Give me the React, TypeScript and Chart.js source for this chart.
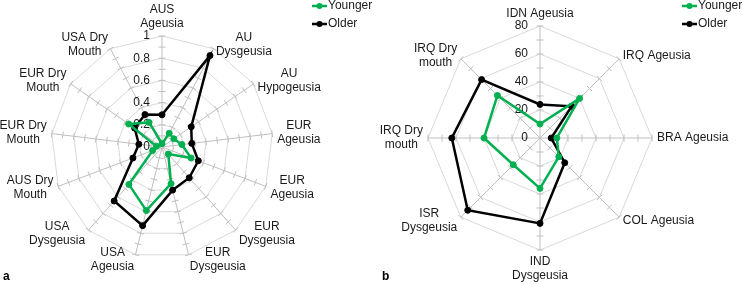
import React, { useEffect, useRef } from 'react';
import { Chart, registerables } from 'chart.js';

Chart.register(...registerables);

const FONT = '"Liberation Sans", Arial, Helvetica, sans-serif';
const GREEN = '#00b050';
const BLACK = '#000000';
const TEXT = '#1a1a1a';

// ---- Panel a ----
const labelsA: string[][] = [
  ['AUS', 'Ageusia'],
  ['AU', 'Dysgeusia'],
  ['AU', 'Hypogeusia'],
  ['EUR', 'Ageusia'],
  ['EUR', 'Ageusia'],
  ['EUR', 'Dysgeusia'],
  ['EUR', 'Dysgeusia'],
  ['USA', 'Ageusia'],
  ['USA', 'Dysgeusia'],
  ['AUS Dry', 'Mouth'],
  ['EUR Dry', 'Mouth'],
  ['EUR Dry', 'Mouth'],
  ['USA Dry', 'Mouth'],
];
const youngerA = [0.03, 0.14, 0.13, 0.18, 0.28, 0.085, 0.34, 0.59, 0.45, 0.09, 0.05, 0.365, 0.25];
const olderA = [0.29, 0.93, 0.32, 0.27, 0.35, 0.37, 0.4, 0.73, 0.65, 0.28, 0.21, 0.3, 0.33];
const tickValuesA = [0, 0.2, 0.4, 0.6, 0.8, 1];
const minorStepA = 0.1;

// ---- Panel b ----
const labelsB: string[][] = [
  ['IDN Ageusia'],
  ['IRQ Ageusia'],
  ['BRA Ageusia'],
  ['COL Ageusia'],
  ['IND', 'Dysgeusia'],
  ['ISR', 'Dysgeusia'],
  ['IRQ Dry', 'mouth'],
  ['IRQ Dry', 'mouth'],
];
const youngerB = [10, 40, 12, 19, 36, 27, 40, 43];
const olderB = [24, 32, 8, 25, 61, 73, 63, 59];
const tickValuesB = [0, 20, 40, 60, 80];
const minorStepB = 10;

const seriesNames = ['Younger', 'Older'];

const excelRadar = {
  id: 'excelRadar',
  beforeDatasetsDraw(chart: any, _args: any, opts: any) {
    const s = chart.scales.r;
    const ctx = chart.ctx as CanvasRenderingContext2D;
    const labels = chart.data.labels as any[];
    const n = labels.length;
    ctx.save();
    // tick marks across every spoke
    ctx.strokeStyle = opts.tickMarkColor;
    ctx.lineWidth = 1;
    const steps = Math.round(s.max / opts.minorStep);
    for (let i = 0; i < n; i++) {
      const ang = s.getIndexAngle(i) - Math.PI / 2;
      const px = -Math.sin(ang);
      const py = Math.cos(ang);
      for (let k = 1; k <= steps; k++) {
        const v = k * opts.minorStep;
        const p = s.getPointPosition(i, s.getDistanceFromCenterForValue(v));
        ctx.beginPath();
        ctx.moveTo(p.x - px * 3.5, p.y - py * 3.5);
        ctx.lineTo(p.x + px * 3.5, p.y + py * 3.5);
        ctx.stroke();
      }
    }
    // value tick labels, left of the vertical axis
    ctx.fillStyle = TEXT;
    ctx.font = `12px ${FONT}`;
    ctx.textAlign = 'right';
    ctx.textBaseline = 'middle';
    s.ticks.forEach((t: any) => {
      const d = s.getDistanceFromCenterForValue(t.value);
      const txt = String(Number(Number(t.value).toFixed(6)));
      ctx.fillText(txt, s.xCenter - opts.tickOffset, s.yCenter - d);
    });
    // category labels
    ctx.textAlign = 'center';
    const lineH = 14;
    for (let i = 0; i < n; i++) {
      const lines: string[] = Array.isArray(labels[i]) ? labels[i] : [labels[i]];
      let deg = (s.getIndexAngle(i) * 180) / Math.PI;
      deg = ((deg % 360) + 360) % 360;
      const p = s.getPointPosition(i, s.drawingArea + 5);
      const bw = Math.max(...lines.map((l) => ctx.measureText(l).width));
      const bh = lines.length * lineH;
      const isTop = deg < 1 || deg > 359;
      const isBottom = Math.abs(deg - 180) < 1;
      let cx: number;
      if (isTop || isBottom) cx = p.x;
      else if (deg < 180) cx = p.x + bw / 2;
      else cx = p.x - bw / 2;
      let top: number;
      if (isTop) top = p.y - bh;
      else if (isBottom) top = p.y;
      else top = p.y - bh / 2;
      lines.forEach((l, j) => ctx.fillText(l, cx, top + lineH * (j + 0.5)));
    }
    ctx.restore();
  },
  afterDraw(chart: any, _args: any, opts: any) {
    const ctx = chart.ctx as CanvasRenderingContext2D;
    ctx.save();
    ctx.font = `12px ${FONT}`;
    ctx.textAlign = 'left';
    ctx.textBaseline = 'middle';
    chart.data.datasets.forEach((ds: any, i: number) => {
      const y = opts.legendY + i * 18;
      const x = opts.legendX;
      ctx.strokeStyle = ds.borderColor;
      ctx.lineWidth = 2.5;
      ctx.beginPath();
      ctx.moveTo(x, y);
      ctx.lineTo(x + 15, y);
      ctx.stroke();
      ctx.fillStyle = ds.borderColor;
      ctx.beginPath();
      ctx.arc(x + 7.5, y, 3, 0, Math.PI * 2);
      ctx.fill();
      ctx.fillStyle = TEXT;
      ctx.fillText(ds.label, x + 16, y);
    });
    ctx.restore();
  },
};

type PanelProps = {
  width: number;
  labels: string[][];
  younger: number[];
  older: number[];
  tickValues: number[];
  minorStep: number;
  padding: { left: number; right: number; top: number; bottom: number };
  legendX: number;
  tickOffset: number;
};

function RadarPanel(props: PanelProps) {
  const ref = useRef<HTMLCanvasElement | null>(null);
  useEffect(() => {
    if (!ref.current) return;
    const max = props.tickValues[props.tickValues.length - 1];
    const step = props.tickValues[1] - props.tickValues[0];
    const mk = (label: string, data: number[], color: string) => ({
      label,
      data,
      borderColor: color,
      backgroundColor: color,
      pointBackgroundColor: color,
      pointBorderColor: color,
      pointRadius: 3,
      pointBorderWidth: 1,
      borderWidth: 2.5,
      fill: false,
      tension: 0,
    });
    const chart = new Chart(ref.current, {
      type: 'radar',
      data: {
        labels: props.labels as any,
        datasets: [mk(seriesNames[0], props.younger, GREEN), mk(seriesNames[1], props.older, BLACK)],
      },
      options: {
        responsive: false,
        animation: false,
        layout: { padding: props.padding },
        plugins: {
          legend: { display: false },
          tooltip: { enabled: false },
          excelRadar: {
            tickMarkColor: '#bfbfbf',
            minorStep: props.minorStep,
            tickOffset: props.tickOffset,
            legendX: props.legendX,
            legendY: 6,
          },
        } as any,
        scales: {
          r: {
            min: 0,
            max,
            ticks: { display: false, stepSize: step },
            pointLabels: { display: false },
            grid: { color: '#d9d9d9', lineWidth: 1 },
            angleLines: { color: '#bfbfbf', lineWidth: 1 },
          },
        },
      },
      plugins: [excelRadar as any],
    });
    return () => chart.destroy();
  }, []);
  return <canvas ref={ref} width={props.width} height={284} style={{ display: 'block', width: props.width, height: 284 }} />;
}

const panelLetter: React.CSSProperties = {
  position: 'absolute',
  top: 269,
  font: `bold 12px ${FONT}`,
  lineHeight: '14px',
  color: '#000',
};

export default function App() {
  return (
    <div style={{ position: 'fixed', left: 0, top: 0, width: 743, height: 284, background: '#fff', overflow: 'hidden' }}>
      <div style={{ position: 'absolute', left: 0, top: 0 }}>
        <RadarPanel
          width={380}
          labels={labelsA}
          younger={youngerA}
          older={olderA}
          tickValues={tickValuesA}
          minorStep={minorStepA}
          padding={{ left: 51, right: 107, top: 36, bottom: 26 }}
          legendX={312}
          tickOffset={12}
        />
      </div>
      <div style={{ position: 'absolute', left: 380, top: 0 }}>
        <RadarPanel
          width={363}
          labels={labelsB}
          younger={youngerB}
          older={olderB}
          tickValues={tickValuesB}
          minorStep={minorStepB}
          padding={{ left: 48, right: 91, top: 26, bottom: 34 }}
          legendX={302}
          tickOffset={12}
        />
      </div>
      <span style={{ ...panelLetter, left: 3 }}>a</span>
      <span style={{ ...panelLetter, left: 382 }}>b</span>
    </div>
  );
}
